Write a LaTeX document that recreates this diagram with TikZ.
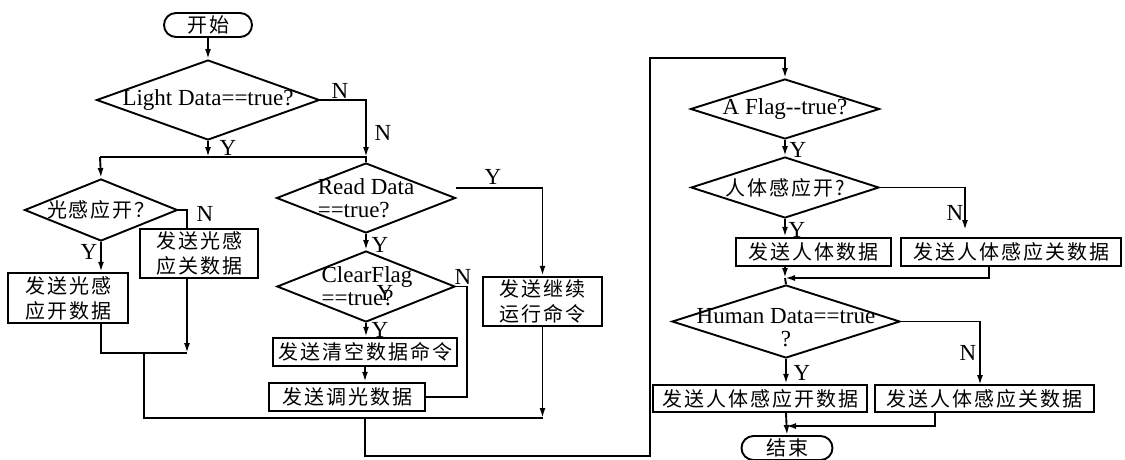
\documentclass[tikz,border=0pt]{standalone}
\usepackage{fontspec}
\setmainfont{Liberation Serif}
\newfontfamily\cjk[LetterSpace=10]{Noto Sans CJK SC}
\usetikzlibrary{arrows.meta,shapes.geometric,shapes.misc}
\begin{document}
\begin{tikzpicture}[x=1pt,y=-1pt,every node/.style={font=\fontsize{23}{23}\selectfont},
  zh/.style={font=\cjk\fontsize{20}{25}\selectfont},
  ln/.style={line width=1.9pt},
  arr/.style={ln,-{Latex[length=10pt,width=6pt]}},
  dia/.style={draw,diamond,ln,inner sep=0pt},
  box/.style={draw,line width=2.4pt,inner sep=0pt,zh,align=center},
  term/.style={draw,rounded rectangle,ln,inner sep=0pt,minimum width=88,minimum height=24,zh},
  lab/.style={inner sep=0pt}]
  \useasboundingbox (0,0) rectangle (1125,459);
  \node[term] (start) at (208,25) {开始};
  \node[dia,minimum width=223,minimum height=80] (ld) at (208,100) {\makebox[0pt]{Light Data==true?}};
  \node[dia,zh,minimum width=153,minimum height=62] (gk) at (101,210) {\makebox[0pt]{光感应开？}};
  \node[box,minimum width=118,minimum height=49] (gkoff) at (199,253.5) {发送光感\\应关数据};
  \node[box,minimum width=120,minimum height=50] (gkon) at (68,298) {发送光感\\应开数据};
  \node[dia,minimum width=179,minimum height=70] (rd) at (366,198) {};
  \node[lab] (rdt) at (366,201) {\begin{tabular}{@{}l@{}}Read Data\\==true?\end{tabular}};
  \node[dia,minimum width=178,minimum height=71] (cf) at (366,286.5) {};
  \node[lab] (cft) at (367,289) {\begin{tabular}{@{}l@{}}ClearFlag\\==true?\end{tabular}};
  \node[box,minimum width=184,minimum height=28] (qk) at (365,352) {发送清空数据命令};
  \node[box,minimum width=156,minimum height=28] (tg) at (347,397) {发送调光数据};
  \node[box,minimum width=119,minimum height=49] (jx) at (542.5,301.5) {发送继续\\运行命令};
  \node[dia,minimum width=189,minimum height=60] (af) at (785,109) {\makebox[0pt]{A Flag-{}-true?}};
  \node[dia,zh,minimum width=188,minimum height=61] (rt) at (785,187.5) {\makebox[0pt]{人体感应开?}};
  \node[box,minimum width=155,minimum height=28] (rton) at (813.5,252) {发送人体数据};
  \node[box,minimum width=220,minimum height=28] (rtoff) at (1011,252) {发送人体感应关数据};
  \node[dia,minimum width=228,minimum height=73] (hd) at (786,321.5) {};
  \node[lab] (hdt) at (786,330) {\begin{tabular}{@{}c@{}}Human Data==true\\?\end{tabular}};
  \node[box,minimum width=214,minimum height=27] (hdon) at (760,398.5) {发送人体感应开数据};
  \node[box,minimum width=219,minimum height=27] (hdoff) at (984.5,398.5) {发送人体感应关数据};
  \node[term,minimum width=91] (end) at (787,448) {结束};
  \coordinate (bar1) at (100,157);
  \coordinate (c1) at (187,353);
  \coordinate (c2) at (144,353);
  \coordinate (bar2) at (365,418);
  \coordinate (c4) at (650,456);
  \coordinate (c5) at (785,58);
  \coordinate (c6) at (467,397);
  \coordinate (c7) at (965,230);
  \coordinate (c8) at (785,278);
  \coordinate (c9) at (989,266);
  \coordinate (c10) at (786,426);
  \coordinate (c11) at (980,385);
  \coordinate (c12) at (935,412);
  \draw[arr] (start) -- (ld);
  \draw[arr] (ld.south) -- (ld.south |- bar1);
  \draw[arr] (ld.east) -| (rd.north |- bar1);
  \draw[ln] (bar1) -- (rd.north |- bar1) -- (rd.north);
  \draw[arr] (bar1) -- (gk.north);
  \draw[ln] (gk.east) -| (gkoff.north -| c1);
  \draw[arr] (gkoff.south -| c1) -- (c1);
  \draw[arr] (gk.south) -- (gk.south |- gkon.north);
  \draw[ln] (gkon.south -| gk.south) |- (c1);
  \draw[ln] (c2) |- (jx.south |- bar2);
  \draw[arr] (jx.south) -- (jx.south |- bar2);
  \draw[arr] (bar2) |- (c4) |- (c5) -- (af.north);
  \draw[arr] ([yshift=10pt]rd.east) -| (jx.north);
  \draw[arr] (rd.south) -- (cf.north);
  \draw[ln] (cf.east) -| (c6) -- (tg.east);
  \draw[arr] (cf.south) -- (qk.north -| cf.south);
  \draw[arr] (qk.south) -- (qk.south |- tg.north);
  \draw[arr] (af.south) -- (rt.north);
  \draw[arr] (rt.east) -| (c7);
  \draw[arr] (rt.south) -- (rt.south |- rton.north);
  \draw[arr] (rt.south |- rton.south) -- (c8);
  \draw[arr] (c9) |- (c8);
  \draw[ln] (c8) -- (hd.north);
  \draw[arr] (hd.east) -| (c11);
  \draw[arr] (hd.south) -- (hd.south |- hdon.north);
  \draw[arr] (hd.south |- hdon.south) -- (end.north);
  \draw[arr] (c12) |- (c10);
  \node[lab] (n1) at (340,91) {N};
  \node[lab] (n2) at (383,133) {N};
  \node[lab] (y1) at (228,148) {Y};
  \node[lab] (n3) at (205,214) {N};
  \node[lab] (y2) at (89,252) {Y};
  \node[lab] (y3) at (493,177) {Y};
  \node[lab] (y4) at (380,245) {Y};
  \node[lab] (y5) at (385,293) {Y};
  \node[lab] (n4) at (463,277) {N};
  \node[lab] (y6) at (380,330) {Y};
  \node[lab] (y7) at (798,150) {Y};
  \node[lab] (y8) at (797,230) {Y};
  \node[lab] (n5) at (955,213) {N};
  \node[lab] (n6) at (968,353) {N};
  \node[lab] (y9) at (802,373) {Y};
\end{tikzpicture}
\end{document}
